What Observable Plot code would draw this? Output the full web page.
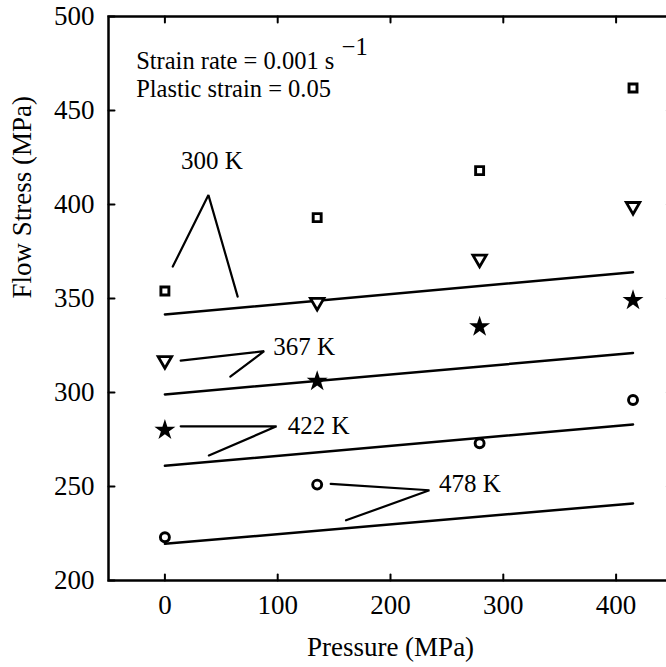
<!DOCTYPE html>
<html>
<head>
<meta charset="utf-8">
<script src="https://cdn.jsdelivr.net/npm/d3@7"></script>
<script src="https://cdn.jsdelivr.net/npm/@observablehq/plot@0.6"></script>
<style>
  html, body { margin: 0; padding: 0; background: #fff; }
  svg, svg text { font-family: "Liberation Serif", "Times New Roman", serif !important; }
</style>
</head>
<body>
<div id="chart"></div>
<script>
// ---- data ----
const pressure = [0, 135, 279, 415];
const stress300 = [354, 393, 418, 462];
const stress367 = [317, 348, 371, 399];
const stress422 = [280, 306, 335, 349];
const stress478 = [223, 251, 273, 296];

const modelP = [0, 415];
const model300 = [341.5, 364];
const model367 = [299, 321];
const model422 = [261, 283];
const model478 = [219.5, 241];

const xTicks = [0, 100, 200, 300, 400];
const yTicks = [200, 250, 300, 350, 400, 450, 500];

// callout leaders (data units) and labels
const labels = ["300 K", "367 K", "422 K", "478 K"];
const leader300 = [[7, 367], [38.6, 405], [64.5, 351]];
const leader367 = [[14, 317], [88, 322], [58, 308.5]];
const leader422 = [[14, 282], [99, 282], [39, 266.5]];
const leader478 = [[147, 251.4], [234.5, 248], [160.6, 232]];
const labelPos = [[41.7, 423], [96, 324], [109, 282], [243, 251.4]];
const labelAnchor = ["middle", "start", "start", "start"];

const noteLines = ["Strain rate = 0.001 s", "Plastic strain = 0.05"];
const notePos = [[-25.5, 476.5], [-25.5, 461.5]];
const noteSup = "\u22121";

const xLabel = "Pressure (MPa)";
const yLabel = "Flow Stress (MPa)";

// ---- helpers ----
const toRows = (xs, ys) => xs.map((x, i) => ({x, y: ys[i]}));
const leaderRows = (pts) => pts.map(([x, y]) => ({x, y}));
const tickShape = {draw(context, l) { context.moveTo(0, 0); context.lineTo(0, -l); }};
const serif = "Liberation Serif, Times New Roman, serif";

const chart = Plot.plot({
  width: 666,
  height: 667,
  marginLeft: 108,
  marginRight: -6,
  marginTop: 16,
  marginBottom: 87,
  x: {domain: [-50, 450]},
  y: {domain: [200, 500]},
  style: {fontFamily: serif, fontSize: "27px", background: "#fff", color: "#000", overflow: "visible"},
  marks: [
    // tick labels
    Plot.axisX({ticks: xTicks, tickSize: 0, tickPadding: 14, label: null, fontSize: 27}),
    Plot.axisY({ticks: yTicks, tickSize: 0, tickPadding: 14, label: null, fontSize: 27}),
    // inward ticks
    Plot.vector(xTicks, {x: d => d, y: 200, length: 6, rotate: 0, anchor: "start", shape: tickShape, stroke: "#000", strokeWidth: 2}),
    Plot.vector(xTicks, {x: d => d, y: 500, length: 6, rotate: 180, anchor: "start", shape: tickShape, stroke: "#000", strokeWidth: 2}),
    Plot.vector(yTicks, {x: -50, y: d => d, length: 6, rotate: 90, anchor: "start", shape: tickShape, stroke: "#000", strokeWidth: 2}),
    Plot.vector(yTicks, {x: 450, y: d => d, length: 6, rotate: -90, anchor: "start", shape: tickShape, stroke: "#999", strokeWidth: 1.5}),
    Plot.frame({stroke: "#000", strokeWidth: 2.5}),
    // model lines
    ...[model300, model367, model422, model478].map(m =>
      Plot.line(toRows(modelP, m), {x: "x", y: "y", stroke: "#000", strokeWidth: 2.5})),
    // experimental points
    Plot.dot(toRows(pressure, stress300), {x: "x", y: "y", symbol: "square", r: 4.5, stroke: "#000", strokeWidth: 2.9, fill: "#fff"}),
    Plot.dot(toRows(pressure, stress367), {x: "x", y: "y", symbol: "triangle", r: 5.0, rotate: 180, stroke: "#000", strokeWidth: 2.8, fill: "#fff"}),
    Plot.dot(toRows(pressure, stress422), {x: "x", y: "y", symbol: "star", r: 6.6, fill: "#000", stroke: "none"}),
    Plot.dot(toRows(pressure, stress478), {x: "x", y: "y", symbol: "circle", r: 4.5, stroke: "#000", strokeWidth: 2.9, fill: "#fff"}),
    // leaders
    ...[leader300, leader367, leader422, leader478].map(l =>
      Plot.line(leaderRows(l), {x: "x", y: "y", stroke: "#000", strokeWidth: 2.2, strokeLinejoin: "miter"})),
    // labels
    ...labels.map((t, i) => Plot.text([t], {x: labelPos[i][0], y: labelPos[i][1], text: d => d, textAnchor: labelAnchor[i], fontSize: 25, fill: "#000"})),
    // note
    ...noteLines.map((t, i) => Plot.text([t], {x: notePos[i][0], y: notePos[i][1], text: d => d, textAnchor: "start", fontSize: 24.5, fill: "#000"})),
    // axis titles
    Plot.text([xLabel], {frameAnchor: "bottom", dy: 75, text: d => d, fontSize: 27, fill: "#000"}),
    Plot.text([yLabel], {frameAnchor: "left", dx: -86, rotate: -90, text: d => d, fontSize: 27, fill: "#000"})
  ]
});

// superscript unit exponent appended to the first note line as a real tspan
d3.select(chart).selectAll("text").filter(function () { return this.textContent === noteLines[0]; })
  .append("tspan").attr("dx", "0.3em").attr("dy", "-0.55em").attr("font-size", "24.5px").text(noteSup);

document.getElementById("chart").appendChild(chart);
</script>
</body>
</html>
